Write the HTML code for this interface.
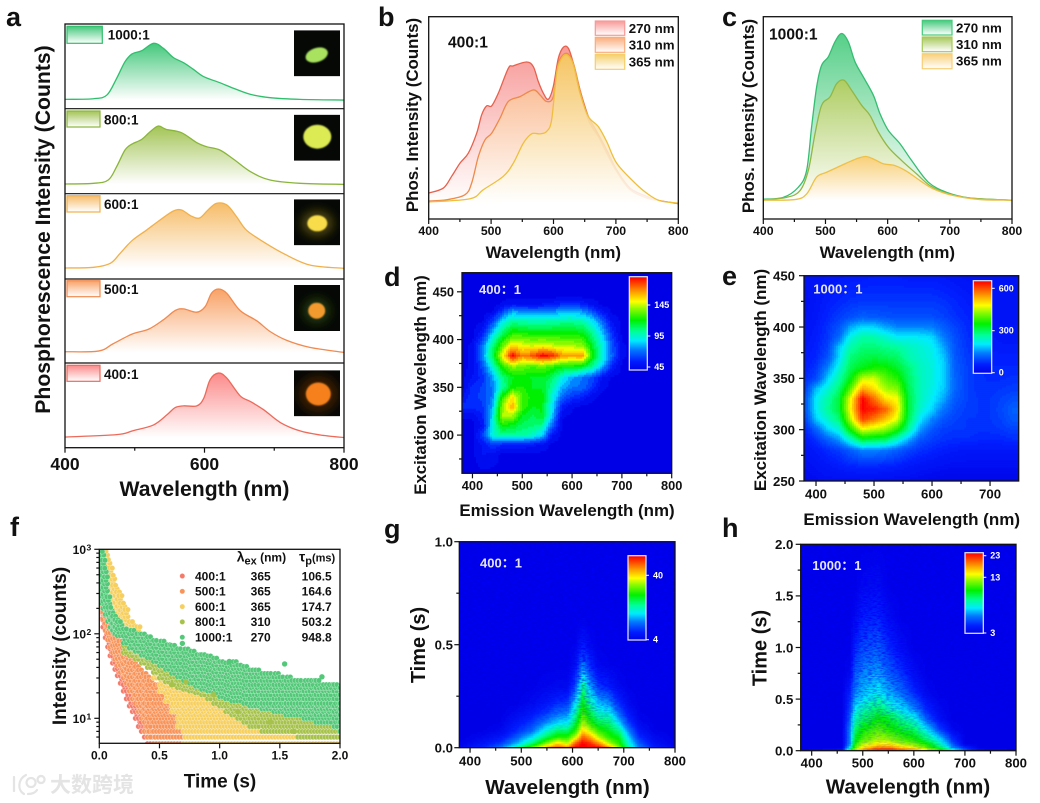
<!DOCTYPE html>
<html lang="en">
<head>
<meta charset="utf-8">
<title>Phosphorescence spectra figure</title>
<style>
html,body{margin:0;padding:0;background:#fff;}
#figure{display:block;width:1040px;height:803px;}
#figure text{font-family:"Liberation Sans","Noto Sans CJK SC",sans-serif;font-weight:bold;fill:#111;}
</style>
</head>
<body>
<svg id="figure" xmlns="http://www.w3.org/2000/svg" width="1040" height="803" viewBox="0 0 1040 803">
<defs id="defs">
<filter id="speckle" x="0" y="0" width="100%" height="100%">
<feTurbulence type="fractalNoise" baseFrequency="0.22 0.85" numOctaves="2" seed="3"/>
<feColorMatrix values="0 0 0 0 0  0 0 0 0 0  0 0 0 0 0.9  2.8 0 0 0 -1.1"/>
</filter>
<filter id="soft" x="-30%" y="-30%" width="160%" height="160%"><feGaussianBlur stdDeviation="0.7"/></filter>
<filter id="glow" x="-60%" y="-60%" width="220%" height="220%"><feGaussianBlur stdDeviation="5"/></filter>
<linearGradient id="fadeG" gradientUnits="userSpaceOnUse" x1="0" y1="640" x2="0" y2="735"><stop offset="0" stop-color="#fff"/><stop offset="1" stop-color="#000"/></linearGradient>
<linearGradient id="fadeH" gradientUnits="userSpaceOnUse" x1="0" y1="600" x2="0" y2="740"><stop offset="0" stop-color="#fff"/><stop offset="1" stop-color="#222"/></linearGradient>
<mask id="maskG" maskUnits="userSpaceOnUse" x="459" y="541" width="217" height="207"><rect x="459" y="541" width="217" height="207" fill="url(#fadeG)"/></mask>
<mask id="maskH" maskUnits="userSpaceOnUse" x="800" y="544" width="217" height="207"><rect x="800" y="544" width="217" height="207" fill="url(#fadeH)"/></mask>
<clipPath id="clipF"><rect x="99.3" y="549.3" width="240.7" height="194"/></clipPath>
</defs>
</svg>
<script>
/* ---------- panel a data: wavelength (nm) and relative intensity per ratio ---------- */
const aNm1000=[400,441,460,474,486,496,510,527,541,555,570,584,599,622,642,666,694,737,800];
const aVal1000=[11,11.8,16.1,35.8,55.5,64.6,68.5,77.2,71.3,60.6,54.3,46.5,37.8,30.7,24,16.9,13,11,10.2];
const aNm800=[400,441,462,474,486,496,510,522,534,545,567,589,603,622,642,666,694,737,800];
const aVal800=[11.4,12.2,16.1,31.8,51.4,58.4,63.9,72.9,79.6,75.7,71.8,60,55.3,51.4,40.4,25.9,16.1,12.2,11];
const aNm600=[400,441,465,479,496,517,536,555,567,581,593,605,617,632,646,660,684,713,751,800];
const aVal600=[12.9,13.7,18.4,30,44.9,57.4,69,79.6,80.9,73.8,71.5,80.9,88.7,86.8,73,57.4,43.8,30,16.4,12.5];
const aNm500=[400,448,469,496,520,541,558,570,589,601,610,620,632,651,675,694,718,751,800];
const aVal500=[13.4,14.2,22.9,34.4,40.3,51.4,62.5,64.4,60.5,67.2,83,88.1,83,62.5,50.2,37.5,26.9,18.6,12.6];
const aNm400=[400,474,498,527,546,558,570,589,599,608,620,632,651,666,685,709,737,766,800];
const aVal400=[12.6,15.4,20.2,26.9,38.7,47.4,49.4,49.4,58.5,80.2,88.1,82.2,61.3,54.5,44.7,29.6,19.8,15,11.9];
const aRatios=['1000:1','800:1','600:1','500:1','400:1'];

/* ---------- panel b data (400:1) ---------- */
const bNm270=[400,423.5,436.8,450.2,463.6,476.9,484.9,492.9,500.9,511.6,527.6,535.6,557,567.7,575.7,583.7,591.7,599.7,607.7,615.8,623.8,631.8,642.5,655.8,669.2,685.2,701.2,722.6,749.3,770.6,800];
const bVal270=[12.8,15.3,21.1,27.6,32.6,42.4,51.5,55.9,55.9,62.2,74.5,75.7,77.6,75.3,67.9,62.2,59.2,65.5,79.4,84.9,84.4,77,63.8,50.7,43.3,34.2,24.3,15.3,11.2,9,7.6];
const bNm310=[400,428.8,458.2,468.9,479.6,490.2,500.9,514.2,527.6,546.3,567.7,578.4,589,599.7,607.7,621,631.8,642.5,655.8,671.8,685.2,701.2,722.6,749.3,770.6,800];
const bVal310=[8.9,9.5,12,17.8,30.9,39.1,42.4,49.8,58.1,60.5,63.8,61.3,58.1,60.5,77,81.9,77,63.8,49,40.8,32.6,23.5,14.5,10.4,9,7.6];
const bNm365=[400,466.2,487.6,519.6,535.6,551.7,565,578.4,589,597,605,613,622,631.8,642.5,655.8,671.8,685.2,701.2,727.9,749.3,770.6,800];
const bVal365=[8.4,10,14.5,21.1,27.6,37.5,42.1,42.1,43.3,49,72,79.4,81.1,76.2,62.2,50.7,45.7,38.3,27.6,18.6,12.8,9,7.9];

/* ---------- panel c data (1000:1) ---------- */
const cNm270=[400,432.2,456.3,469.7,477.7,485.8,493.8,504.6,515.3,526,536.7,547.5,560.9,577,587.7,601.1,619.9,638.6,665.4,694.9,732.4,800];
const cVal270=[9.8,10.7,15.7,24,45.5,65.3,76,80.2,87.6,91.7,87.6,77.7,70.2,61.2,52,43.8,37.2,28.9,18.2,13.2,10.4,9.3];
const cNm310=[400,437.5,459,472.4,483.1,493.8,507.2,518,529.8,542.1,558.2,571.6,585,601.1,622.5,646.6,668.1,694.9,732.4,800];
const cVal310=[9.4,10.7,14,24,42.1,56.2,60.3,66.9,68.6,63.6,56.2,51.2,43,35.5,28.9,22.3,16.5,12.7,10.4,9.3];
const cNm365=[400,450.9,469.7,485.8,501.9,531.4,550.1,565.1,579.6,593,611.8,630.6,652,673.5,705.6,748.5,800];
const cVal365=[9.3,9.6,12.4,20.7,23.1,27.3,29.8,30.9,29.3,27.3,26.4,23.6,19,14.9,11.6,9.6,9.3];
const legendExc=['270 nm','310 nm','365 nm'];

/* ---------- panel d heatmap: emission columns, excitation rows, intensity ---------- */
const dEmission=[380,400,420,440,460,480,500,520,540,560,580,600,620,640,660,680,700,720,740,760,780,800];
const dExcitation=[260,280,290,300,310,320,330,340,350,360,372,383,394,405,420,430,437,445,470];
const dIntensity=[
[],
[42,42,50,48],
[42,42,50,62,56,54,54,52,48],
[42,42,62,95,102,102,102,98,86,50],
[42,42,50,92,122,118,110,108,104,70],
[45,45,55,88,142,142,118,112,118,85,45],
[58,58,60,80,138,165,130,118,120,90,55,45],
[50,60,62,74,125,155,130,122,122,95,70,60,55,45],
[42,58,62,74,100,122,125,118,118,102,82,72,72,60,45],
[42,50,58,78,105,118,120,118,118,110,92,80,72,65,50],
[42,45,65,95,125,140,135,130,135,128,122,122,118,105,85,55],
[42,45,75,110,150,190,170,178,190,185,168,165,170,125,98,70,45],
[42,45,72,105,132,155,150,145,150,145,142,142,138,118,95,68,45],
[42,42,55,88,112,128,128,125,125,125,125,125,122,108,88,60,42],
[42,42,42,60,88,102,100,98,98,100,102,102,100,90,70,48],
[42,42,42,42,60,78,75,72,72,75,78,80,76,65,50],
[42,42,42,42,45,50,48,48,50,52,58,60,55,48],
[],
[]];

/* ---------- panel e heatmap ---------- */
const eEmission=[380,400,420,440,460,480,500,520,540,560,580,600,620,640,660,680,700,720,740,760];
const eExcitation=[250,265,280,290,300,310,320,330,340,350,360,370,380,390,400,410,425,450];
const eIntensity=[
[15,25,30,30,30,30,30,25,25,25,20,15,10,10,10,10,10,10,10,10],
[30,40,50,60,70,75,75,70,65,55,45,40,35,30,30,30,30,30,30,30],
[40,55,75,90,120,150,150,140,120,95,80,70,60,55,50,50,50,50,50,50],
[50,80,120,160,240,320,310,300,240,170,110,90,80,75,75,70,70,70,75,75],
[65,120,190,230,360,470,450,430,370,270,160,110,90,85,85,80,80,85,95,95],
[85,190,240,290,450,610,570,520,470,310,210,150,110,95,85,85,85,95,115,115],
[100,210,270,320,490,650,630,590,500,320,240,195,140,105,90,85,85,100,120,120],
[100,210,260,320,480,650,580,500,480,320,250,215,170,115,95,85,85,95,105,105],
[80,180,230,290,400,540,500,440,420,310,250,225,190,125,95,80,80,85,90,90],
[70,100,190,260,340,450,460,400,370,300,250,230,195,125,95,80,75,75,80,80],
[60,85,150,230,310,340,360,360,330,290,250,230,195,120,95,80,70,70,70,70],
[55,70,110,200,290,310,320,310,300,260,240,225,190,115,90,75,65,65,65,65],
[50,65,95,190,260,290,290,280,270,250,235,220,170,110,85,70,60,55,55,55],
[45,60,85,130,225,260,260,240,215,215,210,200,145,105,80,65,55,50,50,50],
[40,55,80,110,170,200,195,170,150,150,150,145,120,95,75,60,50,45,45,45],
[35,50,70,90,105,120,115,110,105,105,105,105,95,80,70,55,45,40,40,35],
[30,45,60,70,80,85,85,85,85,85,85,85,80,70,60,50,45,40,40,35],
[40,40,45,50,55,55,60,60,60,55,55,55,50,45,40,40,40,40,40,40]];

/* ---------- panel g heatmap ---------- */
const gWavelength=[380,400,430,460,490,520,550,570,590,605,620,635,650,670,690,710,730,760,800];
const gTime=[0,0.02,0.05,0.08,0.12,0.17,0.22,0.3,0.4,0.5,0.6,0.65,1];
const gCounts=[
[5,7,9,14,22,32,42,46,44,50,50,50,50,44,34,22,14,8,5],
[4,5,7,10,16,24,34,40,36,46,50,48,44,36,30,20,12,6,4],
[3.6,4,5,7,12,18,26,30,30,36,46,42,36,30,28,17,9,5,3.6],
[3.6,3.6,4,5,9,13,21,25,25,30,40,36,31,28,24,14,7,4],
[3.6,3.6,3.6,4,7,10,15,18,19,26,35,30,26,25,18,10,5],
[3.6,3.6,3.6,3.6,5,7,10,13,14,22,31,26,21,20,13,7,4],
[3.6,3.6,3.6,3.6,3.6,5,7,9,10,18,28,22,17,15,9,5,3.6],
[3.6,3.6,3.6,3.6,3.6,3.6,4.5,5,5,11,24,16,10,8,5,3.6],
[3.6,3.6,3.6,3.6,3.6,3.6,3.6,3.6,3.6,6,15,9,5,4],
[3.6,3.6,3.6,3.6,3.6,3.6,3.6,3.6,3.6,4,8,5,3.6],
[3.6,3.6,3.6,3.6,3.6,3.6,3.6,3.6,3.6,3.6,4.5,3.6],
[],
[]];

/* ---------- panel h heatmap ---------- */
const hWavelength=[380,460,475,485,500,530,550,575,600,625,650,675,700,730,800];
const hTime=[0,0.03,0.06,0.1,0.2,0.3,0.4,0.55,0.75,1,1.3,1.6,2];
const hCounts=[
[3,3.5,8,14,19,25,25,22,19,15,11,7,4.5,3.3,3],
[3,3,6,11,15,19,19,16,14,11,8,5,3.8,3,3],
[3,3,5,10,13,15,15,13,12,10,7,4.5,3,3,3],
[3,3,5,9,11,13,12.5,11,10,8,6,4,3,3,3],
[3,3,5,8,9.5,11,10,9,8,6,4.2,3.2,3],
[3,3,4.5,7,8,9.5,9,7.5,6.5,4.5,3.4,3],
[3,3,4.2,6,7,8,7,6,5,3.8,3.2,3],
[3,3,3.8,5,5.5,6.2,5.5,4.8,3.9,3.2,3],
[3,3,3.2,4.5,5,5.3,4.6,4,3.3,3],
[3,3,3,3.8,4.3,4.5,3.9,3.3,3],
[3,3,3,3.2,3.7,3.8,3.3,3],
[3,3,3,3,3.2,3.3,3],
[]];

/* ---------- panel f decay bands: time (s), low and high counts ---------- */
const fT400=[0,.01,.02,.03,.05,.07,.09,.11,.13,.15,.175,.2,.225,.25,.275,.3,.325,.35,.375,.4,.45,.5,.55];
const fHi400=[300,250,210,170,130,100,80,65,55,45,38,32,27,23,20,17,15,13,11,10,9,8,7];
const fLo400=[280,200,150,120,90,70,55,45,38,32,26,21,17,14,12,10,8,6.5,5.5,5,5,5,5];
const fT500=[0,.01,.02,.03,.05,.07,.09,.11,.13,.15,.175,.2,.225,.25,.275,.3,.325,.35,.375,.4,.45,.5,.55,.6,.65,.7,.75,.8,.85];
const fHi500=[350,300,260,230,180,150,125,105,95,85,75,65,58,52,47,42,38,35,32,30,25,21,18,16,12,10,7,6,5.5];
const fLo500=[300,220,180,150,110,85,70,60,50,42,35,30,26,21,17,15,12,10,7,6,5,5,5,5,5,5,5,5,5];
const fT600=[.02,.03,.05,.07,.09,.11,.13,.15,.175,.2,.25,.3,.35,.4,.45,.5,.55,.6,.65,.7,.75,.8,.85,.9,.95,1,1.05,1.1,1.15,1.2,1.25,1.3,1.35,1.4,1.45,1.5,1.55,1.6,1.65,1.7,1.75,1.8,1.85,1.9,1.95,2];
const fHi600=[1000,1000,800,620,500,400,340,290,240,200,150,125,100,75,60,48,42,38,34,30,28,26,24,22,20,18,17,16,15,13,12,11,10,9.5,9,9,8,8,7.5,7,7,7,6.5,6,6,5.5];
const fLo600=[350,300,240,210,190,175,160,145,130,120,95,75,55,40,30,21,16,12,8,5,5,5,5,5,5,5,5,5,5,5,5,5,5,5,5,5,5,5,5,5,5,5,5,5,5,5];
const fT800=[.2,.25,.3,.35,.4,.45,.5,.55,.6,.65,.7,.75,.8,.85,.9,.95,1,1.05,1.1,1.15,1.2,1.25,1.3,1.35,1.4,1.45,1.5,1.55,1.6,1.65,1.7,1.75,1.8,1.85,1.9,1.95,2];
const fHi800=[85,75,68,60,55,50,46,42,38,36,33,31,29,27,25,24,22,21,20,19,18,17,16,15,14,14,13,13,12,12,11,11,11,10,10,10,9];
const fLo800=[60,55,50,45,40,35,30,27,25,23,22,21,20,19,17,15,13.5,12,11,10,9,8,7.5,7,7,7,7,7,7,6,6,6,6,6,6,6,6];
const fT1000=[0,.01,.02,.03,.05,.07,.09,.11,.13,.15,.2,.25,.3,.35,.4,.45,.5,.55,.6,.65,.7,.75,.8,.85,.9,.95,1,1.05,1.1,1.15,1.2,1.25,1.3,1.35,1.4,1.45,1.5,1.55,1.6,1.65,1.7,1.75,1.8,1.85,1.9,1.95,2];
const fHi1000=[950,800,650,500,280,220,190,170,155,140,125,115,108,100,95,90,85,80,76,72,68,65,62,60,56,53,50,48,47,45,42,40,38,36,36,34,32,31,30,29,29,28,28,27,27,26,26];
const fLo1000=[300,260,230,200,170,140,120,110,100,95,78,68,62,56,52,47,42,38,34,31,28,26,24,22,21,19.5,18,17,16,15.5,14.5,14,13.5,13,12.5,12,11.5,11,10.5,10.5,10,9.5,9,9,8.5,8,7];
const fOutlierT800=[.6,.72,.95,1.15,1.42,1.62];
const fOutlierC800=[25,27,19,12,9,7];
const fOutlierT1000=[.69,1.54,1.08,1.85];
const fOutlierC1000=[77,44,47,31];
const fRatios=['400:1','500:1','600:1','800:1','1000:1'];
const fExcitation=['365','365','365','310','270'];
const fLifetimes=['106.5','164.6','174.7','503.2','948.8'];

/* ---------- helpers ---------- */
const NS='http://www.w3.org/2000/svg';
const root=document.getElementById('figure');
const defs=document.getElementById('defs');
function mk(tag,name,parent,attrs){
  const el=document.createElementNS(NS,tag);
  
  
  for(const k in attrs){el.setAttribute(k,attrs[k]);}
  parent.appendChild(el);
  return el;
}
function label(name,parent,str,x,y,size,anchor,fill){
  const el=mk('text',name,parent,{x:x,y:y,'font-size':size,'text-anchor':anchor||'start'});
  if(fill){el.style.fill=fill;}
  el.textContent=str;
  return el;
}
function rotLabel(name,parent,str,x,y,size){
  const el=mk('text',name,parent,{x:x,y:y,'font-size':size,'text-anchor':'middle',transform:'rotate(-90 '+x+' '+y+')'});
  el.textContent=str;
  return el;
}
function linear(d0,d1,r0,r1){
  const f=v=>r0+(v-d0)*(r1-r0)/(d1-d0);
  f.inv=p=>d0+(p-r0)*(d1-d0)/(r1-r0);
  f.r0=r0;f.r1=r1;
  return f;
}
function tick(parent,name,x1,y1,x2,y2,color,w){
  return mk('line',name,parent,{x1:x1,y1:y1,x2:x2,y2:y2,stroke:color||'#111','stroke-width':w||1.2});
}
function axisX(parent,scale,yPos,majors,minors,fmt,baseline,size){
  majors.forEach(v=>{
    tick(parent,'x-axis-tick',scale(v),yPos,scale(v),yPos+5);
    label('x-axis-tick-label',parent,fmt(v),scale(v),baseline,size,'middle');
  });
  minors.forEach(v=>{tick(parent,'x-axis-minor-tick',scale(v),yPos,scale(v),yPos+3);});
}
function axisY(parent,scale,xPos,majors,minors,fmt,labelX,size){
  majors.forEach(v=>{
    tick(parent,'y-axis-tick',xPos,scale(v),xPos-5,scale(v));
    label('y-axis-tick-label',parent,fmt(v),labelX,scale(v)+size*0.36,size,'end');
  });
  minors.forEach(v=>{tick(parent,'y-axis-minor-tick',xPos,scale(v),xPos-3,scale(v));});
}
function frame(parent,x0,y0,x1,y1){
  mk('rect','plot-frame',parent,{x:x0,y:y0,width:x1-x0,height:y1-y0,fill:'none',stroke:'#111','stroke-width':1.3});
}
let gradN=0;
function gradient(color,x1,y1,x2,y2,endColor){
  const id='grad'+(gradN++);
  const g=document.createElementNS(NS,'linearGradient');
  g.setAttribute('id',id);
  g.setAttribute('gradientUnits','userSpaceOnUse');
  g.setAttribute('x1',x1);g.setAttribute('y1',y1);g.setAttribute('x2',x2);g.setAttribute('y2',y2);
  const s0=document.createElementNS(NS,'stop');s0.setAttribute('offset','0');s0.setAttribute('stop-color',color);g.appendChild(s0);
  const s1=document.createElementNS(NS,'stop');s1.setAttribute('offset','1');s1.setAttribute('stop-color',endColor||'#ffffff');g.appendChild(s1);
  defs.appendChild(g);
  return 'url(#'+id+')';
}
function smoothPath(pts){
  let d='M'+pts[0][0].toFixed(2)+' '+pts[0][1].toFixed(2);
  for(let i=0;i<pts.length-1;i++){
    const p0=pts[i-1]||pts[i],p1=pts[i],p2=pts[i+1],p3=pts[i+2]||p2;
    const c1x=p1[0]+(p2[0]-p0[0])/6,c1y=p1[1]+(p2[1]-p0[1])/6;
    const c2x=p2[0]-(p3[0]-p1[0])/6,c2y=p2[1]-(p3[1]-p1[1])/6;
    d+='C'+c1x.toFixed(2)+' '+c1y.toFixed(2)+' '+c2x.toFixed(2)+' '+c2y.toFixed(2)+' '+p2[0].toFixed(2)+' '+p2[1].toFixed(2);
  }
  return d;
}
function spectrum(parent,name,nm,vals,xS,yS,fillColor,stroke,op){
  const pts=nm.map((n,i)=>[xS(n),yS(vals[i])]);
  const top=yS(Math.max.apply(null,vals)),base=yS(Math.min.apply(null,vals));
  const line=smoothPath(pts);
  mk('path',name+'-fill',parent,{d:line+'L'+pts[pts.length-1][0]+' '+base+'L'+pts[0][0]+' '+base+'Z',fill:gradient(fillColor,0,top,0,base),'fill-opacity':op||1});
  mk('path',name+'-line',parent,{d:line,fill:'none',stroke:stroke,'stroke-width':1.3});
}
function patch(parent,name,x0,y0,x1,y1,fillColor,stroke){
  mk('rect',name,parent,{x:x0,y:y0,width:x1-x0,height:y1-y0,fill:gradient(fillColor,0,y0,0,y1),stroke:stroke,'stroke-width':1.2});
}
/* colour map */
const stops=[[0,0,0,230],[.1,0,30,255],[.22,0,120,255],[.32,0,235,255],[.42,0,255,150],[.54,0,240,0],[.66,140,250,0],[.74,255,255,0],[.84,255,160,0],[1,255,0,0]];
function heat(t){
  t=Math.max(0,Math.min(1,t));
  for(let i=1;i<stops.length;i++){
    if(t<=stops[i][0]){
      const a=stops[i-1],b=stops[i],f=(t-a[0])/(b[0]-a[0]);
      return 'rgb('+Math.round(a[1]+(b[1]-a[1])*f)+','+Math.round(a[2]+(b[2]-a[2])*f)+','+Math.round(a[3]+(b[3]-a[3])*f)+')';
    }
  }
  return 'rgb(255,0,0)';
}
function locate(arr,v){
  let i=0;
  while(i<arr.length-2&&v>arr[i+1]){i++;}
  const f=Math.max(0,Math.min(1,(v-arr[i])/(arr[i+1]-arr[i])));
  return [i,f];
}
function heatmap(parent,name,xS,yS,xs,ys,rows,floor,tOf,levels,cell){
  const x0=Math.min(xS.r0,xS.r1),x1=Math.max(xS.r0,xS.r1),y0=Math.min(yS.r0,yS.r1),y1=Math.max(yS.r0,yS.r1);
  mk('rect',name+'-background',parent,{x:x0,y:y0,width:x1-x0,height:y1-y0,fill:heat(0)});
  const val=(r,c)=>{const v=rows[r][c];return v===undefined?floor:v;};
  for(let py=y0;py<y1;py+=cell){
    const [ri,rf]=locate(ys,yS.inv(py+cell/2));
    let start=null,runT=null;
    const flush=end=>{
      if(runT!==null&&runT>0.012){
        mk('rect',name+'-cell',parent,{x:start.toFixed(2),y:py.toFixed(2),width:(end-start+.3).toFixed(2),height:(Math.min(cell+.3,y1-py)).toFixed(2),fill:heat(runT)});
      }
    };
    for(let px=x0;px<x1;px+=cell){
      const [ci,cf]=locate(xs,xS.inv(px+cell/2));
      const v=val(ri,ci)*(1-rf)*(1-cf)+val(ri,ci+1)*(1-rf)*cf+val(ri+1,ci)*rf*(1-cf)+val(ri+1,ci+1)*rf*cf;
      const t=Math.round(tOf(v)*levels)/levels;
      if(t!==runT){flush(px);start=px;runT=t;}
    }
    flush(x1-.3);
  }
}
function colorbar(parent,name,x0,y0,x1,y1,ticks){
  const h=y1-y0;
  for(let i=0;i<h;i++){
    mk('rect',name+'-step',parent,{x:x0,y:y0+i,width:x1-x0,height:1.3,fill:heat(1-i/h)});
  }
  mk('rect',name+'-border',parent,{x:x0,y:y0,width:x1-x0,height:h,fill:'none',stroke:'#e8e8f8','stroke-width':1.2});
  ticks.forEach(tk=>{
    tick(parent,name+'-tick',x1,tk[1],x1+3,tk[1],'#fff',1);
    label(name+'-label',parent,tk[0],x1+7,tk[1]+3,9,'start','#fff');
  });
}

/* ---------- panel letters ---------- */
const lettersG=mk('g','panel-letters',root,{});
label('panel-letter-a',lettersG,'a',6,26,27);
label('panel-letter-b',lettersG,'b',378,26,27);
label('panel-letter-c',lettersG,'c',722,26,27);
label('panel-letter-d',lettersG,'d',384,286,27);
label('panel-letter-e',lettersG,'e',722,285,27);
label('panel-letter-f',lettersG,'f',10,536,27);
label('panel-letter-g',lettersG,'g',384,538,27);
label('panel-letter-h',lettersG,'h',722,537,27);

/* ---------- panel a ---------- */
const pa=mk('g','panel-a-stacked-spectra',root,{});
const xA=linear(400,800,65,344);
const rowEdges=[24,108.7,193.7,279,363,447.7];
const aData=[[aNm1000,aVal1000,'#45c87c','#2fbf6c'],[aNm800,aVal800,'#a3c456','#8ab53c'],[aNm600,aVal600,'#f6bd6a','#f0b04c'],[aNm500,aVal500,'#f8a266','#f08a50'],[aNm400,aVal400,'#fb8a8a','#ec6a5a']];
const patchEdges=[[102.3,26.3,43.3,107.7,39.7],[100,111,127,104,124.3],[100,195.7,212,104,209],[100,280.7,296.7,104,294],[100,365.3,381.3,104,379]];
const insetTops=[30.3,114.7,199.3,285,370.3];
const blobs=[[316.7,55,11.5,7,'#a9e25e',0,'',-18],[317.3,136.7,14,12,'#dcea52',0,'',0],[317.3,223.3,10,8,'#f8dc48',.35,'#4d4510',0],[316.7,310.7,8.5,8,'#f39a2e',.4,'#22380e',0],[318.3,394,12.5,11.5,'#f5801e',.25,'#3a1c06',0]];
aData.forEach((d,i)=>{
  const yS=linear(0,100,rowEdges[i+1],rowEdges[i]);
  const row=mk('g','spectrum-row-'+aRatios[i].replace(':','-'),pa,{});
  spectrum(row,'spectrum-'+aRatios[i].replace(':','-'),d[0],d[1],xA,yS,d[2],d[3]);
  const pe=patchEdges[i];
  patch(row,'legend-swatch',67,pe[1],pe[0],pe[2],d[2],d[3]);
  label('legend-label',row,aRatios[i],pe[3],pe[4],13.5);
  const t=insetTops[i];
  const clip=mk('clipPath','sample-photo-clip',defs,{id:'photoClip'+i});
  mk('rect','sample-photo-clip-rect',clip,{x:294,y:t,width:46,height:46});
  const photo=mk('g','sample-photo',row,{'clip-path':'url(#photoClip'+i+')'});
  mk('rect','sample-photo-background',photo,{x:294,y:t,width:46,height:46,fill:'#050805'});
  const b=blobs[i];
  if(b[5]){mk('ellipse','sample-photo-glow',photo,{cx:b[0],cy:b[1],rx:b[2]*1.6,ry:b[3]*1.6,fill:b[6],filter:'url(#glow)'});}
  mk('ellipse','sample-photo-powder',photo,{cx:b[0],cy:b[1],rx:b[2],ry:b[3],fill:b[4],filter:'url(#soft)',transform:'rotate('+b[7]+' '+b[0]+' '+b[1]+')'});
});
rowEdges.slice(1,5).forEach(y=>{tick(pa,'row-separator',65,y,344,y,'#111',1.2);});
frame(pa,65,24,344,447.7);
axisX(pa,xA,447.7,[400,600,800],[500,700],v=>v,470,17.5);
label('x-axis-title',pa,'Wavelength (nm)',204.5,496,21.2,'middle');
rotLabel('y-axis-title',pa,'Phosphorescence Intensity (Counts)',50,229.5,21.2);

/* ---------- panels b & c ---------- */
function spectraPanel(pname,x0,x1,data,ratio,ratioX,ratioY,px0,px1,patchY,labX,labBase,titleCx,yTitleX,yCy,swatchColors){
  const p=mk('g',pname,root,{});
  const y0=16.7,y1=219;
  const xS=linear(400,800,x0,x1),yS=linear(0,100,y1,y0);
  data.forEach((d,i)=>{spectrum(p,'spectrum-'+legendExc[i].replace(' ','-'),d[0],d[1],xS,yS,d[2],d[3],d[4]);});
  frame(p,x0,y0,x1,y1);
  axisX(p,xS,y1,[400,500,600,700,800],[450,550,650,750],v=>v,235,12.3);
  label('sample-ratio-label',p,ratio,ratioX,ratioY,15.6);
  data.forEach((d,i)=>{
    patch(p,'legend-swatch',px0,patchY[i][0],px1,patchY[i][1],swatchColors[i],swatchColors[i]);
    label('legend-label',p,legendExc[i],labX,labBase[i],13.3);
  });
  label('x-axis-title',p,'Wavelength (nm)',titleCx,258,16.9,'middle');
  rotLabel('y-axis-title',p,'Phos. Intensity (Counts)',yTitleX,yCy,16.9);
}
spectraPanel('panel-b-400-spectra',428.7,678.3,[[bNm270,bVal270,'#f79a98','#e8604c',1],[bNm310,bVal310,'#f9ad7c','#ee8a4a',1],[bNm365,bVal365,'#f5c860','#eebf3e',.88]],'400:1',448,47.7,595.3,624.7,[[21,35.3],[37.3,52.3],[54.3,69.3]],628.7,[33,49.7,66.3],553.3,418,115,['#f79a98','#f9ad7c','#f5cf6a']);
spectraPanel('panel-c-1000-spectra',763.3,1012,[[cNm270,cVal270,'#56cf88','#35bd72',1],[cNm310,cVal310,'#aecd62','#94b644',1],[cNm365,cVal365,'#f8cf78','#eec048',1]],'1000:1',769,39.3,922.3,952,[[20.3,35],[37,51.7],[53.7,68.7]],956,[32.3,49,65.7],887.3,754,116,['#45c97c','#a6c85a','#f8cf78']);

/* ---------- panel d ---------- */
const pd=mk('g','panel-d-excitation-emission-map',root,{});
const xD=linear(379,800,462,671.7),yD=linear(260,470,473.3,272.7);
heatmap(pd,'map-d',xD,yD,dEmission,dExcitation,dIntensity,42,v=>(v-41)/149,26,2);
frame(pd,462,272.7,671.7,473.3);
axisX(pd,xD,473.3,[400,500,600,700,800],[450,550,650,750],v=>v,490,12.8);
axisY(pd,yD,462,[300,350,400,450],[275,325,375,425],v=>v,454,12.8);
label('x-axis-title',pd,'Emission Wavelength (nm)',567,516,16.9,'middle');
rotLabel('y-axis-title',pd,'Excitation Wavelength (nm)',426,385,16.8);
label('sample-ratio-label',pd,'400：1',479,294,13,'start','#e4e4f4');
colorbar(pd,'colorbar-d',629.3,276.7,647.3,370,[['145',305],['95',336],['45',367]]);

/* ---------- panel e ---------- */
const pe2=mk('g','panel-e-excitation-emission-map',root,{});
const xE=linear(379.3,749.4,804,1018.7),yE=linear(250,450,481,275.7);
heatmap(pe2,'map-e',xE,yE,eEmission,eExcitation,eIntensity,0,v=>v/650,80,2);
frame(pe2,804,275.7,1018.7,481);
axisX(pe2,xE,481,[400,500,600,700],[450,550,650],v=>v,498.7,13.2);
axisY(pe2,yE,804,[250,300,350,400,450],[275,325,375,425],v=>v,795,13.2);
label('x-axis-title',pe2,'Emission Wavelength (nm)',911.7,525,17,'middle');
rotLabel('y-axis-title',pe2,'Excitation Wavelength (nm)',766,380,17);
label('sample-ratio-label',pe2,'1000：1',813.3,293.3,13,'start','#e4e4f4');
colorbar(pe2,'colorbar-e',973.3,280.7,991.7,373.3,[['600',288.3],['300',330.7],['0',372.7]]);

/* ---------- panel f ---------- */
const pf=mk('g','panel-f-decay-curves',root,{});
const xF=linear(0,2,99.3,340);
const logS=v=>Math.log10(v);
const yFl=linear(logS(5.06),3,743.3,549.3);
const yF=v=>yFl(logS(v));
const fColors=['#f47a6a','#f8945a','#f6cf5e','#a6c24a','#52c878'];
const fSeries=[[fT400,fLo400,fHi400],[fT500,fLo500,fHi500],[fT600,fLo600,fHi600],[fT800,fLo800,fHi800],[fT1000,fLo1000,fHi1000]];
const fPlot=mk('g','decay-points',pf,{'clip-path':'url(#clipF)'});
fSeries.forEach((s,si)=>{
  const g=mk('g','decay-series-'+fRatios[si].replace(':','-'),fPlot,{});
  s[0].forEach((t,k)=>{
    let c=s[1][k],i=0;
    c=c<30?Math.round(c):c;
    while(c<=s[2][k]){
      const off=i%2?1.5:0;
      mk('circle','decay-point',g,{cx:(xF(t)+off).toFixed(2),cy:yF(c).toFixed(2),r:2.7,fill:fColors[si],stroke:'#fff','stroke-opacity':.45,'stroke-width':.6});
      mk('circle','decay-point',g,{cx:(xF(t)+off+3).toFixed(2),cy:yF(c).toFixed(2),r:2.7,fill:fColors[si],stroke:'#fff','stroke-opacity':.45,'stroke-width':.6});
      i++;
      const n=Math.max(c+1,c*1.1);
      c=n<30?Math.round(n):n;
    }
  });
});
fOutlierT800.forEach((t,i)=>{mk('circle','decay-outlier',fPlot,{cx:xF(t),cy:yF(fOutlierC800[i]),r:2.7,fill:fColors[3]});});
fOutlierT1000.forEach((t,i)=>{mk('circle','decay-outlier',fPlot,{cx:xF(t),cy:yF(fOutlierC1000[i]),r:2.7,fill:fColors[4]});});
frame(pf,99.3,549.3,340,743.3);
axisX(pf,xF,743.3,[0,.5,1,1.5,2],[],v=>v.toFixed(1),759.3,12);
[1000,100,10].forEach((v,i)=>{
  tick(pf,'y-axis-tick',99.3,yF(v),94.3,yF(v));
  label('y-axis-tick-label',pf,'10',86,yF(v)+4.5,12,'end');
  const sp=mk('text','y-axis-tick-exponent',pf,{x:86.5,y:yF(v)+1,'font-size':8.5});
  sp.textContent=String(3-i);
});
[6,7,8,9,20,30,40,50,60,70,80,90,200,300,400,500,600,700,800,900].forEach(v=>{tick(pf,'y-axis-minor-tick',99.3,yF(v),96.3,yF(v));});
label('x-axis-title',pf,'Time (s)',220,787.7,19,'middle');
rotLabel('y-axis-title',pf,'Intensity (counts)',66,646,19);
const hdr1=mk('text','legend-header-excitation',pf,{x:236.7,y:561.7,'font-size':12});
hdr1.innerHTML='<tspan font-size="14">λ</tspan><tspan dy="3" font-size="11">ex</tspan><tspan dy="-3"> (nm)</tspan>';
const hdr2=mk('text','legend-header-lifetime',pf,{x:299,y:561.7,'font-size':12});
hdr2.innerHTML='<tspan font-size="14">τ</tspan><tspan dy="3" font-size="11">p</tspan><tspan dy="-3" font-size="11">(ms)</tspan>';
fRatios.forEach((r,i)=>{
  const y=576+i*15.3;
  mk('circle','legend-marker',pf,{cx:182.3,cy:y,r:2.6,fill:fColors[i],stroke:'#fff','stroke-opacity':.5,'stroke-width':.5});
  label('legend-ratio',pf,r,195,y+4.3,12);
  label('legend-excitation',pf,fExcitation[i],260.7,y+4.3,12,'middle');
  label('legend-lifetime',pf,fLifetimes[i],316.7,y+4.3,12,'middle');
});

/* ---------- panel g ---------- */
const pg=mk('g','panel-g-time-resolved-map',root,{});
const xG=linear(379,800,459.3,675),yG=linear(0,1,747.7,541.7);
heatmap(pg,'map-g',xG,yG,gWavelength,gTime,gCounts,3.6,v=>(v-3.6)/46.4,70,2);
const gMask=mk('g','map-g-speckle',pg,{mask:'url(#maskG)'});
mk('rect','map-g-speckle-noise',gMask,{x:459.3,y:541.7,width:215.7,height:206,filter:'url(#speckle)'});
frame(pg,459.3,541.7,675,747.7);
axisX(pg,xG,747.7,[400,500,600,700,800],[450,550,650,750],v=>v,765.7,13.2);
axisY(pg,yG,459.3,[0,.5,1],[.25,.75],v=>v.toFixed(1),453,13.2);
label('x-axis-title',pg,'Wavelength (nm)',567.5,794,20.5,'middle');
rotLabel('y-axis-title',pg,'Time (s)',425,645,20);
label('sample-ratio-label',pg,'400：1',480,567.7,13,'start','#e4e4f4');
colorbar(pg,'colorbar-g',628,555.7,646,640,[['40',575.3],['4',639.7]]);

/* ---------- panel h ---------- */
const ph=mk('g','panel-h-time-resolved-map',root,{});
const xH=linear(378.5,800,800.7,1016),yH=linear(0,2,750.7,544.3);
heatmap(ph,'map-h',xH,yH,hWavelength,hTime,hCounts,3,v=>Math.log(v/3)/Math.log(25/3),70,2);
const hMask=mk('g','map-h-speckle',ph,{mask:'url(#maskH)'});
mk('rect','map-h-speckle-noise',hMask,{x:800.7,y:544.3,width:215.3,height:206.4,filter:'url(#speckle)'});
frame(ph,800.7,544.3,1016,750.7);
axisX(ph,xH,750.7,[400,500,600,700,800],[450,550,650,750],v=>v,767.7,13.2);
axisY(ph,yH,800.7,[0,.5,1,1.5,2],[.25,.75,1.25,1.75],v=>v.toFixed(1),793.3,13.2);
label('x-axis-title',ph,'Wavelength (nm)',908,793.3,20.5,'middle');
rotLabel('y-axis-title',ph,'Time (s)',766.7,648,20);
label('sample-ratio-label',ph,'1000：1',812.3,570,13,'start','#e4e4f4');
colorbar(ph,'colorbar-h',965,552.7,983.3,633.3,[['23',555.7],['13',577.3],['3',633]]);

/* ---------- watermark ---------- */
const wm=mk('g','watermark',root,{});
mk('path','watermark-logo',wm,{d:'M14 777V791M26 775C18 779 17 790 24 794 M28 794C31 794 35 793 37 790 M31 778a4.5 4.5 0 1 0 .1 0 M41 776a3.5 3.5 0 1 0 .1 0',fill:'none',stroke:'#e4e4e4','stroke-width':2.2,'stroke-linecap':'round'});
label('watermark-text',wm,'大数跨境',50,792,21,'start','#e4e4e4');
</script>
</body>
</html>
